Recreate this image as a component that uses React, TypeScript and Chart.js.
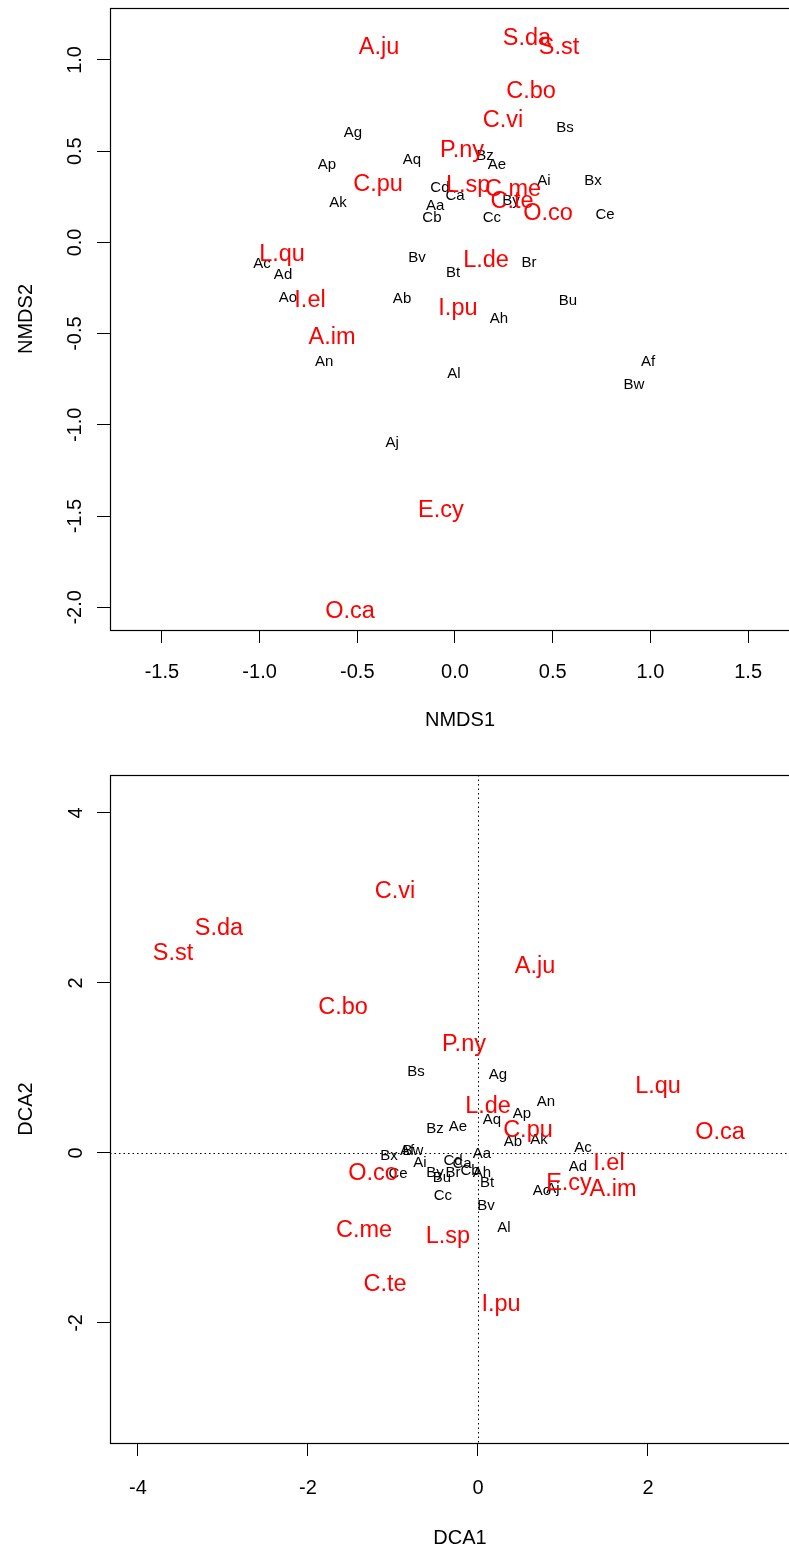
import React, { useEffect, useRef } from "react";
import { Chart, registerables } from "chart.js";

Chart.register(...registerables);

const FONT = "'Liberation Sans', Arial, Helvetica, sans-serif";

// ---------- NMDS (top plot) ----------
const nmdsSiteNames = ["Ag", "Ap", "Aq", "Ak", "Bz", "Ae", "Bs", "Ai", "Bx", "Cd", "Ca", "Aa", "Cb", "Cc", "By", "Ce", "Ac", "Ad", "Ao", "Bv", "Bt", "Br", "Ab", "Ah", "Bu", "An", "Al", "Af", "Bw", "Aj"];
const nmdsSiteX = [-0.522, -0.655, -0.22, -0.599, 0.154, 0.215, 0.563, 0.455, 0.706, -0.077, 0.0, -0.102, -0.118, 0.189, 0.287, 0.768, -0.988, -0.88, -0.855, -0.194, -0.01, 0.379, -0.271, 0.225, 0.578, -0.67, -0.005, 0.988, 0.916, -0.322];
const nmdsSiteY = [0.605, 0.431, 0.458, 0.223, 0.48, 0.431, 0.633, 0.343, 0.343, 0.305, 0.261, 0.206, 0.14, 0.14, 0.234, 0.157, -0.111, -0.172, -0.297, -0.079, -0.161, -0.106, -0.303, -0.412, -0.314, -0.648, -0.713, -0.648, -0.774, -1.091];

const nmdsSpeciesNames = ["A.ju", "S.da", "S.st", "C.bo", "C.vi", "P.ny", "C.pu", "L.sp", "C.me", "C.te", "O.co", "L.qu", "L.de", "I.el", "I.pu", "A.im", "E.cy", "O.ca"];
const nmdsSpeciesX = [-0.389, 0.368, 0.532, 0.389, 0.246, 0.036, -0.394, 0.067, 0.297, 0.292, 0.476, -0.885, 0.159, -0.742, 0.015, -0.629, -0.072, -0.537];
const nmdsSpeciesY = [1.077, 1.126, 1.077, 0.836, 0.677, 0.513, 0.327, 0.321, 0.299, 0.234, 0.168, -0.058, -0.091, -0.31, -0.354, -0.513, -1.46, -2.013];

const nmdsXTicks = [-1.5, -1, -0.5, 0, 0.5, 1, 1.5];
const nmdsXTickLabels = ["-1.5", "-1.0", "-0.5", "0.0", "0.5", "1.0", "1.5"];
const nmdsYTicks = [-2, -1.5, -1, -0.5, 0, 0.5, 1];
const nmdsYTickLabels = ["-2.0", "-1.5", "-1.0", "-0.5", "0.0", "0.5", "1.0"];

// ---------- DCA (bottom plot) ----------
const dcaSiteNames = ["Bs", "Ag", "An", "Ap", "Aq", "Bz", "Ae", "Ab", "Ak", "Ac", "Ad", "Aa", "Bx", "Af", "Bw", "Ai", "Ce", "Cd", "Ca", "By", "Br", "Bu", "Cb", "Ah", "Bt", "Cc", "Bv", "Al", "Ao", "Aj"];
const dcaSiteX = [-0.729, 0.235, 0.8, 0.518, 0.165, -0.506, -0.235, 0.412, 0.718, 1.235, 1.176, 0.047, -1.047, -0.835, -0.765, -0.682, -0.941, -0.294, -0.188, -0.506, -0.294, -0.424, -0.094, 0.047, 0.106, -0.412, 0.094, 0.306, 0.753, 0.882];
const dcaSiteY = [0.965, 0.929, 0.612, 0.471, 0.4, 0.294, 0.318, 0.141, 0.165, 0.071, -0.153, 0.0, -0.024, 0.035, 0.035, -0.106, -0.235, -0.082, -0.118, -0.224, -0.224, -0.282, -0.2, -0.224, -0.341, -0.494, -0.612, -0.871, -0.435, -0.412];

const dcaSpeciesNames = ["S.da", "S.st", "C.vi", "A.ju", "C.bo", "P.ny", "L.qu", "O.ca", "L.de", "C.pu", "I.el", "E.cy", "A.im", "O.co", "C.me", "L.sp", "C.te", "I.pu"];
const dcaSpeciesX = [-3.047, -3.588, -0.976, 0.671, -1.588, -0.165, 2.118, 2.847, 0.118, 0.588, 1.541, 1.071, 1.588, -1.235, -1.341, -0.353, -1.094, 0.271];
const dcaSpeciesY = [2.659, 2.365, 3.094, 2.212, 1.729, 1.294, 0.8, 0.259, 0.565, 0.282, -0.106, -0.341, -0.412, -0.224, -0.894, -0.965, -1.529, -1.765];

const dcaXTicks = [-4, -2, 0, 2];
const dcaXTickLabels = ["-4", "-2", "0", "2"];
const dcaYTicks = [-2, 0, 2, 4];
const dcaYTickLabels = ["-2", "0", "2", "4"];

const toPoints = (names: string[], xs: number[], ys: number[]) =>
  names.map((n, i) => ({ x: xs[i], y: ys[i], label: n }));

const labelPlugin = {
  id: "textLabels",
  afterDatasetsDraw(chart: any) {
    const ctx = chart.ctx;
    const xs = chart.scales.x;
    const ys = chart.scales.y;
    ctx.save();
    chart.data.datasets.forEach((ds: any) => {
      const size = ds.labelSize;
      ctx.font = `${size}px ${FONT}`;
      ctx.fillStyle = ds.labelColor;
      ctx.textAlign = "center";
      ctx.textBaseline = "alphabetic";
      ds.data.forEach((p: any) => {
        ctx.fillText(p.label, xs.getPixelForValue(p.x), ys.getPixelForValue(p.y) + size * 0.36);
      });
    });
    ctx.restore();
  },
};

const boxPlugin = {
  id: "frameBox",
  beforeDatasetsDraw(chart: any, _args: any, opts: any) {
    const { ctx, chartArea } = chart;
    if (opts && opts.zeroLines) {
      const xs = chart.scales.x;
      const ys = chart.scales.y;
      const px = Math.round(xs.getPixelForValue(0)) + 0.5;
      const py = Math.round(ys.getPixelForValue(0)) + 0.5;
      ctx.save();
      ctx.strokeStyle = "#000";
      ctx.lineWidth = 1;
      ctx.setLineDash([1.5, 3]);
      ctx.beginPath();
      ctx.moveTo(px, chartArea.top);
      ctx.lineTo(px, chartArea.bottom);
      ctx.moveTo(chartArea.left, py);
      ctx.lineTo(chartArea.right, py);
      ctx.stroke();
      ctx.restore();
    }
  },
  afterDraw(chart: any) {
    const { ctx, chartArea } = chart;
    ctx.save();
    ctx.strokeStyle = "#000";
    ctx.lineWidth = 1.2;
    ctx.strokeRect(
      Math.round(chartArea.left) + 0.5,
      Math.round(chartArea.top) + 0.5,
      Math.round(chartArea.right - chartArea.left),
      Math.round(chartArea.bottom - chartArea.top)
    );
    ctx.restore();
  },
};

type PlotSpec = {
  sites: { x: number; y: number; label: string }[];
  species: { x: number; y: number; label: string }[];
  xMin: number;
  xMax: number;
  yMin: number;
  yMax: number;
  xTicks: number[];
  xTickLabels: string[];
  yTicks: number[];
  yTickLabels: string[];
  xTitle: string;
  yTitle: string;
  padTop: number;
  xAxisHeight: number;
  xTickPad: number;
  xTitlePad: number;
  yTickPad: number;
  zeroLines: boolean;
};

function makeConfig(s: PlotSpec): any {
  const tickFont = { family: FONT, size: 20 };
  return {
    type: "scatter",
    data: {
      datasets: [
        { data: s.sites, pointRadius: 0, labelSize: 15, labelColor: "#000000" },
        { data: s.species, pointRadius: 0, labelSize: 23.5, labelColor: "#ff0000" },
      ],
    },
    plugins: [labelPlugin, boxPlugin],
    options: {
      responsive: false,
      animation: false,
      events: [],
      layout: { padding: { left: 0, top: s.padTop, right: 10, bottom: 0 } },
      plugins: {
        legend: { display: false },
        tooltip: { enabled: false },
        frameBox: { zeroLines: s.zeroLines },
      },
      scales: {
        x: {
          type: "linear",
          position: "bottom",
          min: s.xMin,
          max: s.xMax,
          afterBuildTicks: (scale: any) => {
            scale.ticks = s.xTicks.map((v) => ({ value: v }));
          },
          afterFit: (scale: any) => {
            scale.height = s.xAxisHeight;
            scale.paddingLeft = 0;
            scale.paddingRight = 0;
          },
          border: { display: false },
          grid: { display: true, drawOnChartArea: false, drawTicks: true, tickLength: 13, color: "#000", lineWidth: 1 },
          ticks: {
            autoSkip: false,
            maxRotation: 0,
            minRotation: 0,
            padding: s.xTickPad,
            color: "#000",
            font: tickFont,
            callback: (_v: any, i: number) => s.xTickLabels[i],
          },
          title: { display: true, text: s.xTitle, color: "#000", font: tickFont, padding: { top: 0, bottom: s.xTitlePad } },
        },
        y: {
          type: "linear",
          position: "left",
          min: s.yMin,
          max: s.yMax,
          afterBuildTicks: (scale: any) => {
            scale.ticks = s.yTicks.map((v) => ({ value: v }));
          },
          afterFit: (scale: any) => {
            scale.width = 110;
            scale.paddingTop = 0;
            scale.paddingBottom = 0;
          },
          border: { display: false },
          grid: { display: true, drawOnChartArea: false, drawTicks: true, tickLength: 13, color: "#000", lineWidth: 1 },
          ticks: {
            autoSkip: false,
            minRotation: 90,
            maxRotation: 90,
            crossAlign: "center",
            padding: s.yTickPad,
            color: "#000",
            font: tickFont,
            callback: (_v: any, i: number) => s.yTickLabels[i],
          },
          title: { display: true, text: s.yTitle, color: "#000", font: tickFont, padding: { top: 14, bottom: 0 } },
        },
      },
    },
  };
}

const nmdsSpec: PlotSpec = {
  sites: toPoints(nmdsSiteNames, nmdsSiteX, nmdsSiteY),
  species: toPoints(nmdsSpeciesNames, nmdsSpeciesX, nmdsSpeciesY),
  xMin: -1.7656,
  xMax: 1.8168,
  yMin: -2.1242,
  yMax: 1.2847,
  xTicks: nmdsXTicks,
  xTickLabels: nmdsXTickLabels,
  yTicks: nmdsYTicks,
  yTickLabels: nmdsYTickLabels,
  xTitle: "NMDS1",
  yTitle: "NMDS2",
  padTop: 8,
  xAxisHeight: 130,
  xTickPad: 17,
  xTitlePad: 28,
  yTickPad: 4,
  zeroLines: false,
};

const dcaSpec: PlotSpec = {
  sites: toPoints(dcaSiteNames, dcaSiteX, dcaSiteY),
  species: toPoints(dcaSpeciesNames, dcaSpeciesX, dcaSpeciesY),
  xMin: -4.329,
  xMax: 3.906,
  yMin: -3.412,
  yMax: 4.447,
  xTicks: dcaXTicks,
  xTickLabels: dcaXTickLabels,
  yTicks: dcaYTicks,
  yTickLabels: dcaYTickLabels,
  xTitle: "DCA1",
  yTitle: "DCA2",
  padTop: 15,
  xAxisHeight: 108,
  xTickPad: 20,
  xTitlePad: 1,
  yTickPad: 12,
  zeroLines: true,
};

function Plot({ spec, height }: { spec: PlotSpec; height: number }) {
  const ref = useRef<HTMLCanvasElement | null>(null);
  useEffect(() => {
    if (!ref.current) return;
    const chart = new Chart(ref.current, makeConfig(spec));
    return () => chart.destroy();
  }, [spec]);
  return <canvas ref={ref} width={820} height={height} style={{ display: "block", width: 820, height }} />;
}

export default function App() {
  return (
    <div
      style={{
        position: "absolute",
        left: 0,
        top: 0,
        width: 789,
        height: 1551,
        overflow: "hidden",
        background: "#ffffff",
      }}
    >
      <Plot spec={nmdsSpec} height={760} />
      <Plot spec={dcaSpec} height={791} />
    </div>
  );
}
